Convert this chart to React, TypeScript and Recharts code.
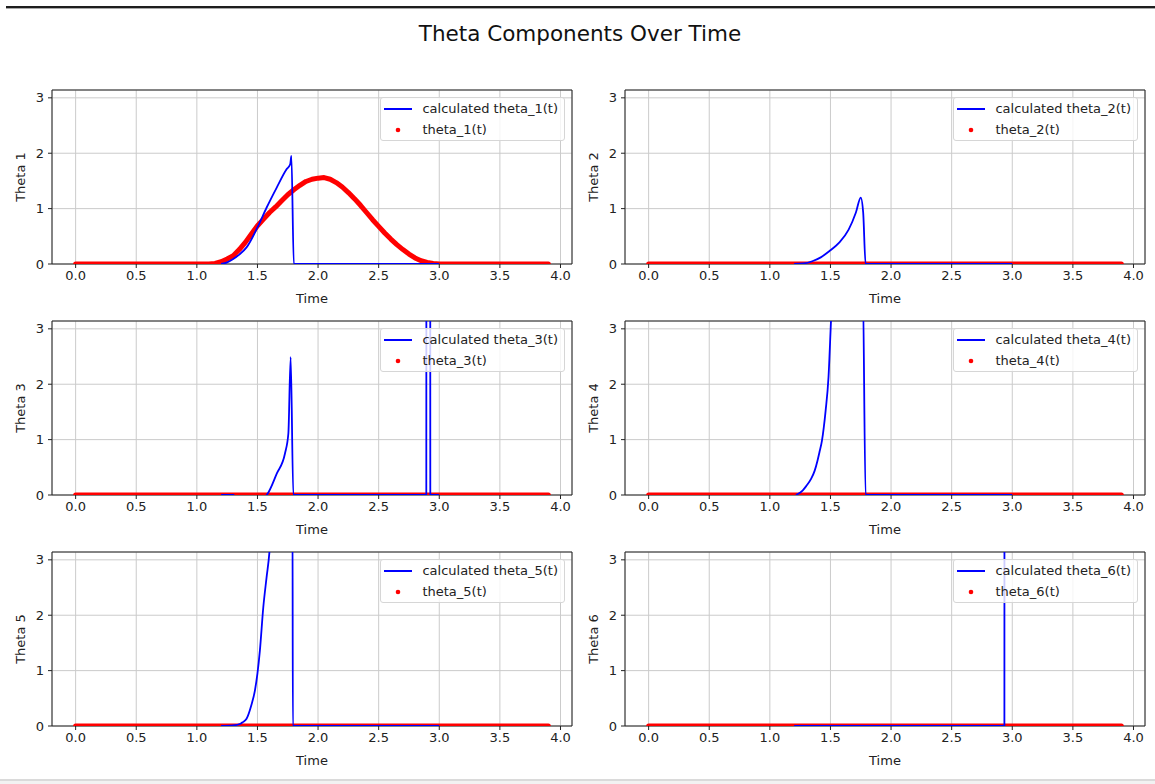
import React from 'react';
import { ComposedChart, Line, XAxis, YAxis, CartesianGrid, ReferenceArea, Legend, Label } from 'recharts';

// ---------- axes ----------
const xTicks = [0, 0.5, 1, 1.5, 2, 2.5, 3, 3.5, 4];
const yTicks = [0, 1, 2, 3];
const X_MIN = -0.195;
const X_MAX = 4.095;
const Y_MAX = 3.1416;

// ---------- reference (red dots) ----------
const theta1RefTimes = [0, 1.1, 1.15, 1.2, 1.25, 1.3, 1.35, 1.4, 1.45, 1.5, 1.55, 1.6, 1.65, 1.7, 1.75, 1.8, 1.85, 1.9, 1.95, 2.0, 2.05, 2.1, 2.15, 2.2, 2.25, 2.3, 2.35, 2.4, 2.45, 2.5, 2.55, 2.6, 2.65, 2.7, 2.75, 2.8, 2.85, 2.9, 2.95, 3.0, 3.9];
const theta1Ref = [0, 0, 0.01, 0.04, 0.09, 0.15, 0.26, 0.39, 0.54, 0.69, 0.81, 0.93, 1.03, 1.14, 1.25, 1.34, 1.42, 1.49, 1.53, 1.55, 1.56, 1.53, 1.47, 1.39, 1.29, 1.18, 1.06, 0.93, 0.8, 0.68, 0.56, 0.45, 0.35, 0.26, 0.18, 0.11, 0.06, 0.03, 0.01, 0, 0];
const flatRefTimes = [0, 3.9];
const theta2Ref = [0, 0];
const theta3Ref = [0, 0];
const theta4Ref = [0, 0];
const theta5Ref = [0, 0];
const theta6Ref = [0, 0];

// ---------- calculated (blue lines) ----------
const theta1CalcTimes = [1.2, 1.25, 1.3, 1.35, 1.41, 1.5, 1.576, 1.659, 1.74, 1.77, 1.78, 1.8, 3.0];
const theta1Calc = [0, 0.03, 0.09, 0.17, 0.3, 0.66, 1.02, 1.38, 1.71, 1.8, 1.95, 0, 0];

const theta2CalcTimes = [1.2, 1.28, 1.35, 1.42, 1.49, 1.57, 1.65, 1.71, 1.75, 1.77, 1.79, 3.0];
const theta2Calc = [0, 0.01, 0.05, 0.12, 0.23, 0.38, 0.62, 0.93, 1.2, 0.93, 0, 0];

const theta3CalcTimes = [1.2, 1.3, 1.32, 1.56, 1.576, 1.66, 1.727, 1.755, 1.774, 1.796, 2.893, 2.898, 2.921, 2.926, 3.0];
const theta3Calc = [0, 0, -0.03, -0.03, 0, 0.39, 0.75, 1.11, 2.49, 0, 0, 40, 40, 0, 0];

const theta4CalcTimes = [1.215, 1.27, 1.3, 1.34, 1.37, 1.393, 1.41, 1.43, 1.445, 1.46, 1.484, 1.504, 1.52, 1.766, 1.79, 3.0];
const theta4Calc = [0, 0.08, 0.16, 0.29, 0.44, 0.62, 0.78, 0.98, 1.22, 1.52, 2.13, 3.12, 3.9, 3.9, 0, 0];

const theta5CalcTimes = [1.2, 1.3, 1.36, 1.38, 1.41, 1.45, 1.479, 1.5, 1.52, 1.548, 1.575, 1.598, 1.61, 1.789, 1.792, 3.0];
const theta5Calc = [0, 0.01, 0.04, 0.07, 0.13, 0.38, 0.64, 0.95, 1.36, 2.14, 2.68, 3.12, 3.5, 4, 0, 0];

const theta6CalcTimes = [1.2, 2.935, 2.94];
const theta6Calc = [0, 0, 40];

const panels = [
  { name: 'theta_1', yLabel: 'Theta 1', calcT: theta1CalcTimes, calcV: theta1Calc, refT: theta1RefTimes, refV: theta1Ref },
  { name: 'theta_2', yLabel: 'Theta 2', calcT: theta2CalcTimes, calcV: theta2Calc, refT: flatRefTimes, refV: theta2Ref },
  { name: 'theta_3', yLabel: 'Theta 3', calcT: theta3CalcTimes, calcV: theta3Calc, refT: flatRefTimes, refV: theta3Ref },
  { name: 'theta_4', yLabel: 'Theta 4', calcT: theta4CalcTimes, calcV: theta4Calc, refT: flatRefTimes, refV: theta4Ref },
  { name: 'theta_5', yLabel: 'Theta 5', calcT: theta5CalcTimes, calcV: theta5Calc, refT: flatRefTimes, refV: theta5Ref },
  { name: 'theta_6', yLabel: 'Theta 6', calcT: theta6CalcTimes, calcV: theta6Calc, refT: flatRefTimes, refV: theta6Ref },
];

// ---------- layout ----------
const PLOT_LEFTS = [52, 625];
const PLOT_TOPS = [90, 321, 552];
const PLOT_W = 520;
const PLOT_H = 174;
const Y_AXIS_W = 52;
const M_TOP = 10;
const M_RIGHT = 8;
const X_AXIS_H = 45;
const CHART_W = Y_AXIS_W + PLOT_W + M_RIGHT;
const CHART_H = M_TOP + PLOT_H + X_AXIS_H;
const FONT = 'DejaVu Sans, Verdana, sans-serif';

const LegendBox = ({ name }: { name: string }) => (
  <div
    style={{
      background: 'rgba(255,255,255,0.8)',
      border: '1px solid #d6d6d6',
      borderRadius: 3,
      paddingRight: 6,
      fontFamily: FONT,
      fontSize: 13,
      color: '#222',
      whiteSpace: 'nowrap',
      boxSizing: 'border-box',
    }}
  >
    <div style={{ display: 'flex', alignItems: 'center', height: 21 }}>
      <svg width={41} height={21} style={{ display: 'block' }}>
        <line x1={3} x2={31} y1={11} y2={11} stroke="#0000ff" strokeWidth={2} />
      </svg>
      <span>calculated {name}(t)</span>
    </div>
    <div style={{ display: 'flex', alignItems: 'center', height: 21 }}>
      <svg width={41} height={21} style={{ display: 'block' }}>
        <circle cx={17} cy={11} r={2.3} fill="#ff0000" />
      </svg>
      <span>{name}(t)</span>
    </div>
  </div>
);

function Panel({ p, left, top }: { p: any; left: number; top: number }) {
  const calc = p.calcT.map((t: number, i: number) => ({ t, v: p.calcV[i] }));
  const ref = p.refT.map((t: number, i: number) => ({ t, v: p.refV[i] }));
  const tickStyle = { fontSize: 13, fill: '#222', fontFamily: FONT };
  return (
    <div style={{ position: 'absolute', left: left - Y_AXIS_W, top: top - M_TOP }}>
      <ComposedChart width={CHART_W} height={CHART_H} margin={{ top: M_TOP, right: M_RIGHT, left: 0, bottom: 0 }}>
        <CartesianGrid stroke="#cbcbcb" strokeWidth={1} />
        <XAxis
          dataKey="t"
          type="number"
          domain={[X_MIN, X_MAX]}
          ticks={xTicks}
          interval={0}
          allowDataOverflow
          height={X_AXIS_H}
          axisLine={false}
          tickLine={{ stroke: '#222' }}
          tickSize={4}
          tickMargin={3}
          tick={tickStyle}
          tickFormatter={(v: number) => v.toFixed(1)}
        >
          <Label
            content={() => (
              <text x={Y_AXIS_W + PLOT_W / 2} y={M_TOP + PLOT_H + 39} textAnchor="middle" fontSize={13} fontFamily={FONT} fill="#222">
                Time
              </text>
            )}
          />
        </XAxis>
        <YAxis
          type="number"
          domain={[0, Y_MAX]}
          ticks={yTicks}
          interval={0}
          allowDataOverflow
          width={Y_AXIS_W}
          axisLine={false}
          tickLine={{ stroke: '#222' }}
          tickSize={4}
          tickMargin={4}
          tick={tickStyle}
        >
          <Label
            content={() => {
              const x = 25;
              const y = M_TOP + PLOT_H / 2;
              return (
                <text x={x} y={y} transform={`rotate(-90 ${x} ${y})`} textAnchor="middle" fontSize={13} fontFamily={FONT} fill="#222">
                  {p.yLabel}
                </text>
              );
            }}
          />
        </YAxis>
        <Line
          data={ref}
          dataKey="v"
          type="linear"
          stroke="#ff0000"
          strokeWidth={5}
          strokeLinecap="round"
          strokeLinejoin="round"
          dot={false}
          activeDot={false}
          isAnimationActive={false}
          name={`${p.name}(t)`}
        />
        <Line
          data={calc}
          dataKey="v"
          type="monotone"
          stroke="#0000ff"
          strokeWidth={1.8}
          dot={false}
          activeDot={false}
          isAnimationActive={false}
          name={`calculated ${p.name}(t)`}
        />
        <ReferenceArea x1={X_MIN} x2={X_MAX} y1={0} y2={Y_MAX} fill="none" fillOpacity={0} stroke="#222" strokeWidth={1} />
        <Legend
          layout="vertical"
          align="center"
          verticalAlign="middle"
          wrapperStyle={{ top: M_TOP + 7, right: M_RIGHT + 7, left: 'auto', bottom: 'auto', width: 'auto', height: 'auto' }}
          content={() => <LegendBox name={p.name} />}
        />
      </ComposedChart>
    </div>
  );
}

export default function App() {
  return (
    <div style={{ position: 'fixed', left: 0, top: 0, width: 1155, height: 784, background: '#fff', overflow: 'hidden' }}>
      <div style={{ position: 'absolute', left: 6, top: 6, width: 1149, height: 2, background: '#1e1e1e' }} />
      <div style={{ position: 'absolute', left: 6, top: 8, width: 1149, height: 1, background: '#a8a8a8' }} />
      <svg style={{ position: 'absolute', left: 0, top: 0 }} width={1155} height={60}>
        <text x={580} y={40.5} textAnchor="middle" fontSize={21.5} fontFamily={FONT} fill="#111">
          Theta Components Over Time
        </text>
      </svg>
      {panels.map((p, i) => (
        <Panel key={p.name} p={p} left={PLOT_LEFTS[i % 2]} top={PLOT_TOPS[Math.floor(i / 2)]} />
      ))}
      <div style={{ position: 'absolute', left: 0, top: 779, width: 1155, height: 2, background: '#dadada' }} />
      <div style={{ position: 'absolute', left: 0, top: 781, width: 1155, height: 3, background: '#f2f2f2' }} />
    </div>
  );
}
